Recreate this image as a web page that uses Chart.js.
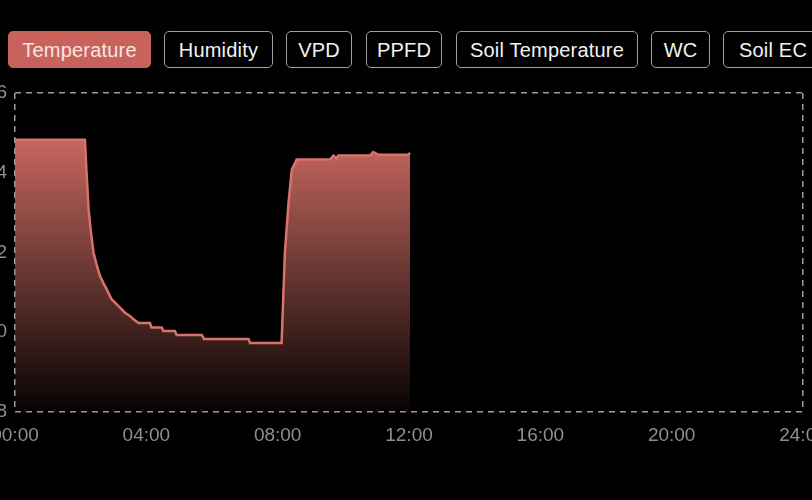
<!DOCTYPE html>
<html lang="en">
<head>
    <meta charset="UTF-8">
    <title>Temperature</title>
    <script src="https://cdn.jsdelivr.net/npm/chart.js@4.4.1/dist/chart.umd.min.js"></script>
    <style>
        html, body { margin: 0; padding: 0; background: #000; overflow: hidden; width: 812px; height: 500px; }
        .tab {
            position: absolute; top: 31px; box-sizing: border-box; height: 37px; line-height: 36px; text-align: center;
            font-family: 'Liberation Sans', Arial, sans-serif; font-size: 20px; letter-spacing: 0.2px;
            color: #f2f2f2; background: #000; border: 1.5px solid #a0a0a0; border-radius: 5px; white-space: nowrap;
        }
        .tab.active { background: #c9625b; border-color: #c9625b; color: #f6e6e4; }
        #wrap { position: absolute; left: -25px; top: 80px; width: 837px; height: 420px; }
    </style>
</head>
<body>
    <div class="tab active" style="left:8px;width:143px">Temperature</div>
    <div class="tab" style="left:164px;width:109px">Humidity</div>
    <div class="tab" style="left:286px;width:66px">VPD</div>
    <div class="tab" style="left:366px;width:76px">PPFD</div>
    <div class="tab" style="left:456px;width:182px">Soil Temperature</div>
    <div class="tab" style="left:651px;width:59px">WC</div>
    <div class="tab" style="left:723px;width:100px">Soil EC</div>
    <div id="wrap"><canvas id="tempChart"></canvas></div>

    <script>
        // hours since midnight, temperature readings
        const hours = [0, 2.13, 2.18, 2.24, 2.3, 2.39, 2.5, 2.59, 2.7, 2.79, 2.94, 3.2, 3.35, 3.5, 3.6, 3.76, 4.11, 4.16, 4.47, 4.52,
            4.87, 4.92, 5.69, 5.76, 7.11, 7.16, 8.12, 8.22, 8.33, 8.43, 8.58, 9.6, 9.7, 9.78, 9.85, 10.81, 10.91,
            11.07, 11.98, 12.03];
        const temps = [24.83, 24.83, 24.0, 23.1, 22.6, 22.0, 21.65, 21.41, 21.22, 21.08, 20.83, 20.62, 20.49, 20.41, 20.33, 20.23, 20.23,
            20.12, 20.12, 20.03, 20.03, 19.93, 19.93, 19.83, 19.83, 19.73, 19.73, 22.0, 23.24, 24.08, 24.33, 24.34,
            24.43, 24.36, 24.43, 24.43, 24.52, 24.45, 24.45, 24.5];
        const xTicks = [0, 4, 8, 12, 16, 20, 24];
        const yMin = 18, yMax = 26;

        const lineColor = '#d8736c';
        const edgeColor = '#9c9c9c';

        function fillGradient(c) {
            const chart = c.chart;
            const area = chart.chartArea;
            if (!area) return 'rgba(200,100,95,0.5)';
            const top = chart.scales.y.getPixelForValue(Math.max(...temps));
            const g = chart.ctx.createLinearGradient(0, top, 0, area.bottom);
            g.addColorStop(0, 'rgba(204,106,98,0.97)');
            g.addColorStop(0.5, 'rgba(204,106,98,0.5)');
            g.addColorStop(1, 'rgba(204,106,98,0.03)');
            return g;
        }

        function zeroPad(s) {
            s.paddingLeft = 0; s.paddingRight = 0; s.paddingTop = 0; s.paddingBottom = 0;
        }

        new Chart(document.getElementById('tempChart'), {
            type: 'line',
            data: {
                datasets: [{
                    data: hours.map((h, i) => ({ x: h, y: temps[i] })),
                    borderColor: lineColor,
                    borderWidth: 2.5,
                    backgroundColor: fillGradient,
                    fill: 'start',
                    pointRadius: 0,
                    tension: 0
                }]
            },
            options: {
                responsive: true,
                maintainAspectRatio: false,
                animation: false,
                layout: { padding: { top: 13, right: 9, left: 0, bottom: 0 } },
                plugins: { legend: { display: false }, tooltip: { enabled: false } },
                scales: {
                    x: {
                        type: 'linear',
                        min: 0, max: 24,
                        afterBuildTicks: (s) => { s.ticks = xTicks.map(v => ({ value: v })); },
                        afterFit: (s) => { s.height = 88; zeroPad(s); },
                        ticks: {
                            color: '#8f8f8f',
                            font: { family: 'Liberation Sans', size: 19 },
                            padding: 12,
                            maxRotation: 0,
                            autoSkip: false,
                            callback: (v) => String(v).padStart(2, '0') + ':00'
                        },
                        grid: {
                            drawTicks: false,
                            lineWidth: 1.5,
                            color: (c) => (c.tick && (c.tick.value === 0 || c.tick.value === 24)) ? edgeColor : 'rgba(0,0,0,0)'
                        },
                        border: { display: false, dash: [6, 5] }
                    },
                    y: {
                        min: yMin, max: yMax,
                        afterFit: (s) => { s.width = 40; zeroPad(s); },
                        ticks: {
                            stepSize: 2,
                            color: '#8f8f8f',
                            font: { family: 'Liberation Sans', size: 19 },
                            padding: 8
                        },
                        grid: {
                            drawTicks: false,
                            lineWidth: 1.5,
                            color: (c) => (c.tick && (c.tick.value === yMin || c.tick.value === yMax)) ? edgeColor : 'rgba(0,0,0,0)'
                        },
                        border: { display: false, dash: [6, 5] }
                    }
                }
            }
        });
    </script>
</body>
</html>
